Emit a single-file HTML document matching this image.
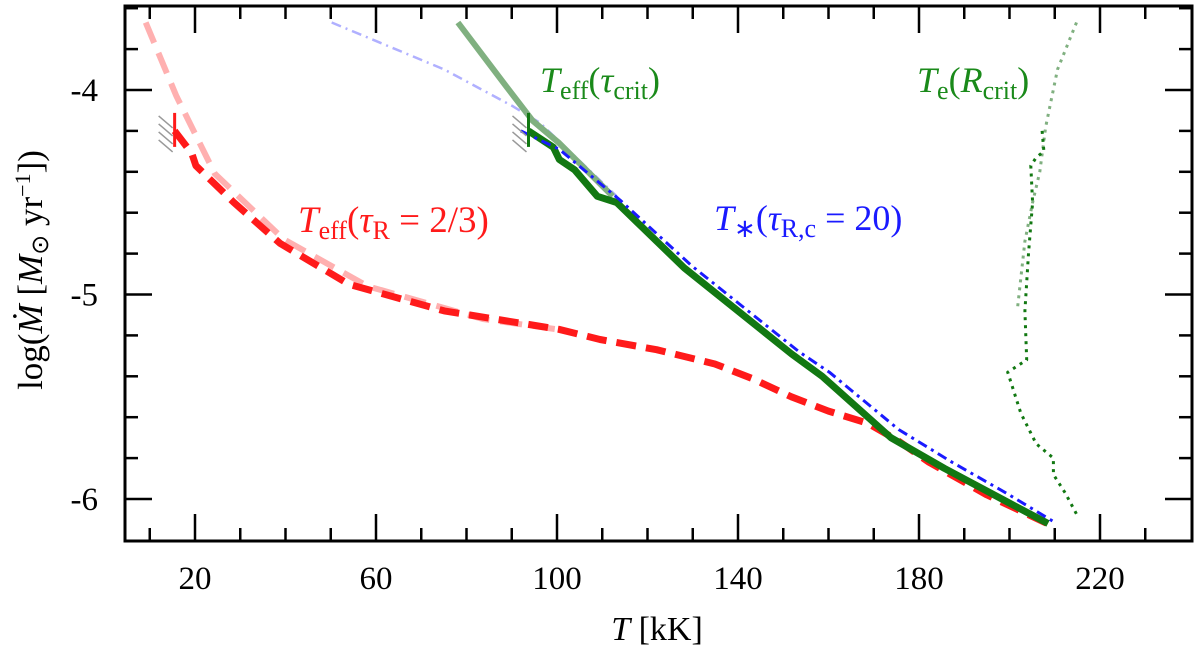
<!DOCTYPE html>
<html><head><meta charset="utf-8"><style>
html,body{margin:0;padding:0;background:#fff;}
svg{display:block;font-family:"Liberation Serif",serif;}
</style></head><body>
<svg id="chart" width="1200" height="651" viewBox="0 0 1200 651" xmlns="http://www.w3.org/2000/svg">
<g id="marks"></g>
<g id="axes"></g>
<text x="540" y="92" font-size="36" fill="#1a8a1a"><tspan font-style="italic">T</tspan><tspan font-size="26" dy="7">eff</tspan><tspan dy="-7">(</tspan><tspan font-style="italic">τ</tspan><tspan font-size="26" dy="7">crit</tspan><tspan dy="-7">)</tspan></text>
<text x="917" y="92" font-size="36" fill="#1a8a1a"><tspan font-style="italic">T</tspan><tspan font-size="26" dy="7">e</tspan><tspan dy="-7">(</tspan><tspan font-style="italic">R</tspan><tspan font-size="26" dy="7">crit</tspan><tspan dy="-7">)</tspan></text>
<text x="298" y="232" font-size="37" fill="#ff1a1a"><tspan font-style="italic">T</tspan><tspan font-size="26" dy="7">eff</tspan><tspan dy="-7">(</tspan><tspan font-style="italic">τ</tspan><tspan font-size="26" dy="7">R</tspan><tspan dy="-7"> = 2/3)</tspan></text>
<text x="714" y="230" font-size="36" fill="#1a1aff"><tspan font-style="italic">T</tspan><tspan font-size="26" dy="7">∗</tspan><tspan dy="-7">(</tspan><tspan font-style="italic">τ</tspan><tspan font-size="26" dy="7">R,c</tspan><tspan dy="-7"> = 20)</tspan></text>
<text x="657" y="640" font-size="34" text-anchor="middle"><tspan font-style="italic">T</tspan> [kK]</text>
<g transform="translate(42,270) rotate(-90)">
<text x="0" y="0" font-size="35" text-anchor="middle">log(<tspan font-style="italic">Ṁ</tspan> [<tspan font-style="italic">M</tspan><tspan font-size="24" dy="6">⊙</tspan><tspan dy="-6"> yr</tspan><tspan font-size="22" dy="-12">−1</tspan><tspan dy="12">])</tspan></text>
</g>
</svg>
<script>
const xTicks=[20,60,100,140,180,220];
const yTicks=[-4,-5,-6];
const redLightT=[9.1,15.9,24.4,39.6,58.2,83.6,100];
const redLightV=[-3.67,-4.03,-4.41,-4.73,-4.96,-5.12,-5.17];
const redT=[15.5,19.3,20.2,28.6,38.8,54,75.1,100.4,109.5,122,134.9,143,151.8,160,168.7,175,182.2,195,209.3];
const redV=[-4.20,-4.31,-4.37,-4.55,-4.75,-4.95,-5.08,-5.17,-5.22,-5.27,-5.34,-5.41,-5.50,-5.57,-5.63,-5.71,-5.82,-5.98,-6.13];
const greenLightT=[78.1,88.7,94.6,100.5,112.3];
const greenLightV=[-3.67,-3.98,-4.15,-4.26,-4.52];
const blueLightT=[50.2,75.1,90.3,96.2,113.2];
const blueLightV=[-3.67,-3.90,-4.08,-4.16,-4.52];
const greenT=[93.7,99.2,100.5,103.9,108.9,113.2,128.1,151.8,158.6,173.8,185.6,198.3,208.5];
const greenV=[-4.20,-4.28,-4.34,-4.39,-4.52,-4.55,-4.87,-5.29,-5.40,-5.70,-5.85,-6.00,-6.12];
const blueT=[92,100.5,114,129.8,153.5,160.2,175.5,187.3,199.2,209.7];
const blueV=[-4.20,-4.29,-4.54,-4.86,-5.28,-5.38,-5.66,-5.82,-5.97,-6.11];
const teLightT=[214.8,210.6,208,206.7,205.1,203.4,201.7];
const teLightV=[-3.67,-3.90,-4.18,-4.40,-4.55,-4.74,-5.08];
const teT=[207.2,207.6,205.9,204.7,205.1,204.2,203.4,203.8,199.6,202.5,205.9,209.7,209.7,212.3,215.2];
const teV=[-4.20,-4.30,-4.33,-4.37,-4.55,-4.80,-5.08,-5.32,-5.38,-5.58,-5.73,-5.80,-5.88,-5.97,-6.09];
const limitT=[15.5,93.7];
const limitV=[-4.20,-4.20];

const NS='http://www.w3.org/2000/svg';
const L=125,R=1192,Tp=6,B=541;
const X=t=>104.5+4.525*t;
const Y=v=>90-204.5*(v+4);
const marks=document.getElementById('marks'),axes=document.getElementById('axes');
function mk(tag,parent,attrs){const e=document.createElementNS(NS,tag);for(const k in attrs)e.setAttribute(k,attrs[k]);parent.appendChild(e);return e;}
function line(ts,vs,stroke,w,dash,name){
  const d=ts.map((t,i)=>(i?'L':'M')+X(t).toFixed(1)+' '+Y(vs[i]).toFixed(1)).join(' ');
  const p=mk('path',marks,{d:d,fill:'none',stroke:stroke,'stroke-width':w,'stroke-linejoin':'round'});
  if(dash)p.setAttribute('stroke-dasharray',dash);
  
  
}
line(redLightT,redLightV,'#ffb0b0',6,'22 11','series-teff-tau-r-light');
line(blueLightT,blueLightV,'#b0b0ff',2.5,'10 5 2 5','series-tstar-light');
line(greenLightT,greenLightV,'#80b080',6,null,'series-teff-tau-crit-light');
line(teLightT,teLightV,'#80b080',3,'3 5','series-te-light');
line(redT,redV,'#ff1a1a',7,'20 10','series-teff-tau-r');
line(greenT,greenV,'#127812',7,null,'series-teff-tau-crit');
line(blueT,blueV,'#1a1aff',3,'10 5 3 5','series-tstar');
line(teT,teV,'#127812',3,'3 5','series-te-r-crit');
limitT.forEach((t,i)=>{
  const x=X(t),y=Y(limitV[i]);
  const g=mk('g',marks,{});
  
  
  for(let k=0;k<4;k++){mk('line',g,{x1:x-16,y1:y-15+k*8,x2:x-2,y2:y-3+k*8,stroke:'#999','stroke-width':1.5});}
  mk('line',g,{x1:x,y1:y-18,x2:x,y2:y+16,stroke:i?'#127812':'#ff1a1a','stroke-width':3});
});
const fr=mk('rect',axes,{x:L,y:Tp,width:R-L,height:B-Tp,fill:'none',stroke:'#000','stroke-width':3});


for(let t=10;t<=230;t+=10){
  const big=(t-20)%40===0, len=big?27:13, x=X(t);
  mk('line',axes,{x1:x,y1:B,x2:x,y2:B-len,stroke:'#000','stroke-width':2.5});
  mk('line',axes,{x1:x,y1:Tp,x2:x,y2:Tp+len,stroke:'#000','stroke-width':2.5});
}
for(let v=-3.6;v>=-6.2;v-=0.2){
  const vv=Math.round(v*10)/10, y=Y(vv); if(y<Tp+2||y>B-2)continue;
  const big=Math.abs(vv-Math.round(vv))<0.01, len=big?27:13;
  mk('line',axes,{x1:L,y1:y,x2:L+len,y2:y,stroke:'#000','stroke-width':2.5});
  mk('line',axes,{x1:R,y1:y,x2:R-len,y2:y,stroke:'#000','stroke-width':2.5});
}
xTicks.forEach(t=>{const e=mk('text',axes,{x:X(t),y:B+48,'font-size':33,'text-anchor':'middle'});e.textContent=t;
  
  });
yTicks.forEach(v=>{const e=mk('text',axes,{x:98,y:Y(v)+11,'font-size':33,'text-anchor':'end'});e.textContent=v;
  
  });
</script>
</body></html>
